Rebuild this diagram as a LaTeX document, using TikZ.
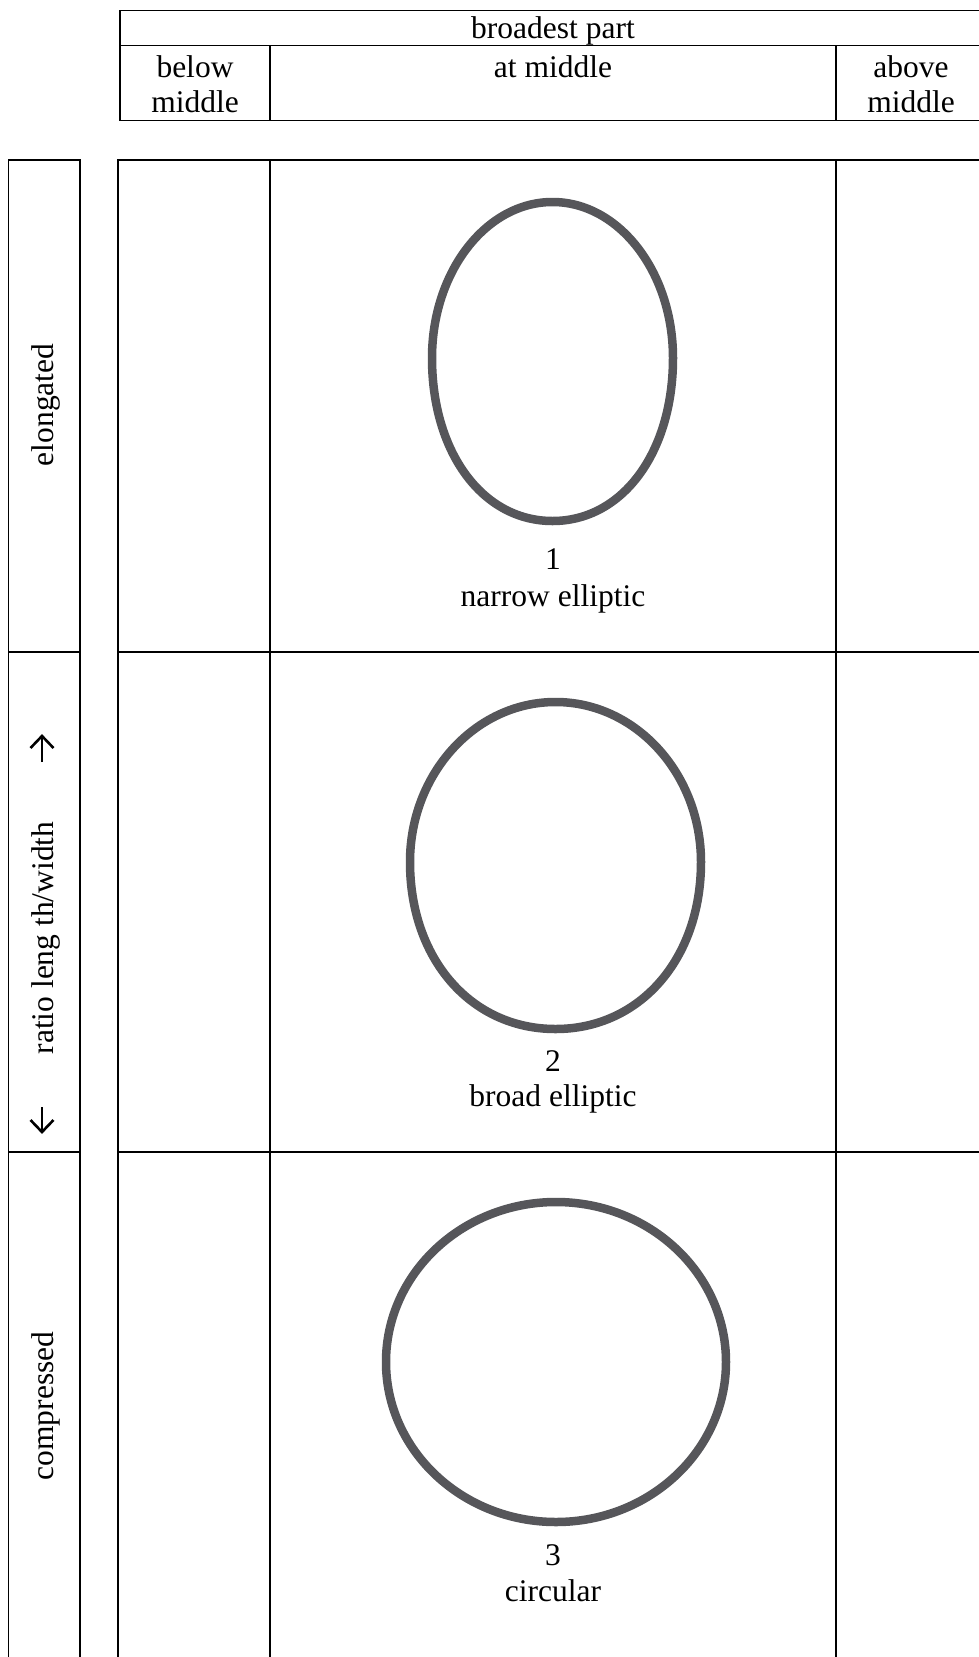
\documentclass[tikz,border=0pt]{standalone}
\usepackage{fontspec}
\setmainfont{Liberation Serif}
\definecolor{ringgray}{RGB}{86,86,90}
\begin{document}
\begin{tikzpicture}[x=1pt,y=-1pt,
  gridline/.style={line width=1.7pt,line cap=rect},
  ring/.style={draw=ringgray,line width=8.5pt},
  glyph/.style={line width=2.6pt},
  lbl/.style={font=\fontsize{31.5}{36}\selectfont,inner sep=0pt,anchor=base},
  vlbl/.style={lbl,rotate=90}]
\useasboundingbox (0,0) rectangle (978,1657);
% header
\draw[gridline] (990,10.6) -- (120,10.6) -- (120,120.5) -- (990,120.5);
\draw[gridline] (120,45.5) -- (990,45.5);
\draw[gridline] (270,45.5) -- (270,120.5);
\draw[gridline] (836,45.5) -- (836,120.5);
\node[lbl] (hbroad) at (553,38) {broadest part};
\node[lbl] (hbelow1) at (195,77) {below};
\node[lbl] (hbelow2) at (195,112) {middle};
\node[lbl] (hmid) at (553,77) {at middle};
\node[lbl] (habove1) at (911,77) {above};
\node[lbl] (habove2) at (911,112) {middle};
% left label column
\draw[gridline] (8.5,1670) -- (8.5,159.7) -- (80,159.7) -- (80,1670);
\draw[gridline] (8.5,652) -- (80,652);
\draw[gridline] (8.5,1152) -- (80,1152);
\node[vlbl] (lelong) at (53,405) {elongated};
\node[vlbl] (lratio) at (53,938) {ratio leng th/width};
\node[vlbl] (lcomp) at (53,1406) {compressed};
% arrow glyphs
\draw[glyph] (42,762) -- (42,736);
\draw[glyph,line join=miter] (30.5,748) -- (42,736) -- (53.5,748);
\draw[glyph] (42,1107) -- (42,1132);
\draw[glyph,line join=miter] (30.5,1120) -- (42,1132) -- (53.5,1120);
% main table
\draw[gridline] (118,1670) -- (118,159.7) -- (990,159.7);
\draw[gridline] (118,652) -- (990,652);
\draw[gridline] (118,1152) -- (990,1152);
\draw[gridline] (270,159.7) -- (270,1670);
\draw[gridline] (836,159.7) -- (836,1670);
% shapes (hand-drawn outlines, slightly flatter at the base)
\draw[ring] (673,358) .. controls (673,272) and (619,202) .. (552.5,202)
  .. controls (486,202) and (432,272) .. (432,358)
  .. controls (432,452.5) and (482.5,521) .. (552.5,521)
  .. controls (622.5,521) and (673,452.5) .. cycle;
\draw[ring] (701,862) .. controls (701,774) and (636,702) .. (555.5,702)
  .. controls (475,702) and (410,774) .. (410,862)
  .. controls (410,959) and (471,1029) .. (555.5,1029)
  .. controls (640,1029) and (701,959) .. cycle;
\draw[ring] (556,1362) ellipse [x radius=170, y radius=160];
\node[lbl] (n1) at (553,569) {1};
\node[lbl] (t1) at (553,606) {narrow elliptic};
\node[lbl] (n2) at (553,1071) {2};
\node[lbl] (t2) at (553,1106) {broad elliptic};
\node[lbl] (n3) at (553,1565) {3};
\node[lbl] (t3) at (553,1601) {circular};
\end{tikzpicture}
\end{document}
